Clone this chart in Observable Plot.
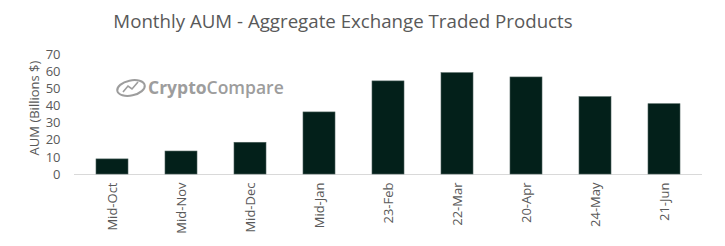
<!DOCTYPE html>
<html>
<head>
<meta charset="utf-8">
<script src="https://cdn.jsdelivr.net/npm/d3@7"></script>
<script src="https://cdn.jsdelivr.net/npm/@observablehq/plot@0.6"></script>
<style>
  html, body { margin: 0; padding: 0; background: #fff; }
  #wrap { position: relative; width: 725px; height: 246px; font-family: "Open Sans", sans-serif; }
  #title { position: absolute; left: 0; top: 8px; width: 686px; text-align: center; font-size: 18.7px; color: #595959; white-space: nowrap; }
  #chart { position: absolute; left: 0; top: 40px; width: 725px; height: 206px; }
  #chart svg { max-width: none !important; }
</style>
</head>
<body>
<div id="wrap">
  <div id="title">Monthly AUM - Aggregate Exchange Traded Products</div>
  <div id="chart"></div>
</div>
<script>
const categories = ["Mid-Oct", "Mid-Nov", "Mid-Dec", "Mid-Jan", "23-Feb", "22-Mar", "20-Apr", "24-May", "21-Jun"];
const aum = [8.8, 13.4, 18.5, 36.2, 54.3, 59.1, 56.6, 45.1, 41.0];
const yTicks = [0, 10, 20, 30, 40, 50, 60, 70];

const data = categories.map((c, i) => ({ month: c, value: aum[i] }));

const plot = Plot.plot({
  width: 725,
  height: 206,
  marginLeft: 74,
  marginRight: 23,
  marginTop: 14,
  marginBottom: 72,
  style: { fontFamily: "Open Sans, sans-serif", fontSize: "13px", color: "#595959", background: "#fff" },
  x: { domain: categories, paddingInner: 0.54, paddingOuter: 0.27, label: null },
  y: { domain: [0, 70], label: null },
  marks: [
    Plot.axisY({ ticks: yTicks, tickSize: 0, tickPadding: 14, fontSize: 13, fill: "#595959" }),
    Plot.axisX({ tickSize: 0, tickPadding: 8, tickRotate: -90, fontSize: 13, fill: "#595959" }),
    Plot.ruleY([0], { stroke: "#d9d9d9", strokeWidth: 1 }),
    Plot.barY(data, { x: "month", y: "value", fill: "#03201a", stroke: "#4a5f5a", strokeWidth: 0.6 })
  ]
});
document.getElementById("chart").appendChild(plot);

// Y axis title
const svg = d3.select(plot);
svg.append("text")
  .attr("transform", "translate(39,68) rotate(-90)")
  .attr("text-anchor", "middle")
  .attr("fill", "#595959")
  .attr("font-size", 13)
  .attr("font-family", "Open Sans, sans-serif")
  .text("AUM (Billions $)");

// Watermark
const wm = svg.append("g").attr("opacity", 0.85);
wm.append("ellipse").attr("cx", 131).attr("cy", 48).attr("rx", 14).attr("ry", 7.5)
  .attr("fill", "none").attr("stroke", "#8c8c8c").attr("stroke-width", 2).attr("transform", "rotate(-12 131 48)");
wm.append("path").attr("d", "M123,52 L128,46 L132,49 L138,42").attr("fill", "none").attr("stroke", "#8c8c8c").attr("stroke-width", 1.6);
wm.append("text").attr("x", 148).attr("y", 54).attr("text-anchor", "start")
  .attr("font-family", "Open Sans, sans-serif").attr("font-size", 17.5).attr("font-weight", 700)
  .attr("fill", "#8c8c8c")
  .html('Crypto<tspan font-weight="600">Compare</tspan>');
</script>
</body>
</html>
